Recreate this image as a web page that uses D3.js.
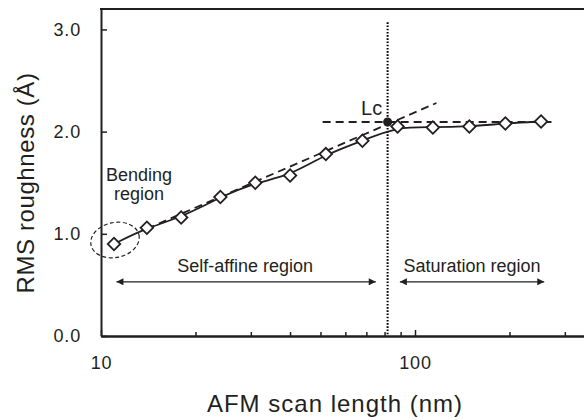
<!DOCTYPE html>
<html>
<head>
<meta charset="utf-8">
<script src="https://cdn.jsdelivr.net/npm/d3@7"></script>
<style>
  body { margin: 0; background: #fff; }
  text { font-family: "Liberation Sans", Arial, sans-serif; fill: #231f20; }
</style>
</head>
<body>
<div id="chart"></div>
<script>
// ---------------- data
const scanLength = [11, 14, 18, 24, 31, 40, 52, 68, 88, 114, 149, 194, 252]
const rmsRough   = [0.90, 1.06, 1.16, 1.36, 1.50, 1.57, 1.78, 1.91, 2.05, 2.04, 2.05, 2.08, 2.10]

const lcPoint = { x: 81.8, y: 2.094 }
// power-law fit (dashed) and saturation level (dashed)
const slopeLine = [{ x: 14, y: 1.05 }, { x: 117, y: 2.28 }]
const satLine   = [{ x: 50.8, y: 2.094 }, { x: 272, y: 2.094 }]

const yTicks = [0, 1, 2, 3]
const xMajor = [10, 100]
const xMinor = [20, 30, 40, 50, 60, 70, 80, 90, 200, 300, 400]

const regions = [
  { label: "Self-affine region", from: 11.2, to: 75, y: 0.53 },
  { label: "Saturation region", from: 89.5, to: 258, y: 0.53 }
]

const dataset = scanLength.map((d, i) => ({ x: d, y: rmsRough[i] }))

// ---------------- dimensions
let dimensions = {
  width: 584,
  height: 420,
  left: 101,
  top: 9,
  bottom: 336
}

const svg = d3.select("#chart")
  .append("svg")
  .attr("width", dimensions.width)
  .attr("height", dimensions.height)

const defs = svg.append("defs")
defs.append("marker")
  .attr("id", "arrow")
  .attr("viewBox", "0 0 10 10")
  .attr("refX", 10).attr("refY", 5)
  .attr("markerWidth", 9).attr("markerHeight", 7)
  .attr("markerUnits", "userSpaceOnUse")
  .attr("orient", "auto-start-reverse")
  .append("path")
  .attr("d", "M0,0L10,5L0,10Z")
  .attr("fill", "#231f20")

// ---------------- scales (one decade = 314px)
const xScale = d3.scaleLog()
  .domain([10, 1000])
  .range([dimensions.left, dimensions.left + 628])

const yScale = d3.scaleLinear()
  .domain([0, 3.2])
  .range([dimensions.bottom, dimensions.top])

const xAccessor = d => xScale(d.x)
const yAccessor = d => yScale(d.y)

// ---------------- axes
const xMinorAxis = d3.axisBottom(xScale)
  .tickValues(xMinor)
  .tickSizeInner(-4)
  .tickSizeOuter(0)
  .tickFormat("")

const xMajorAxis = d3.axisBottom(xScale)
  .tickValues(xMajor)
  .tickSizeInner(-6)
  .tickSizeOuter(0)
  .tickPadding(20)
  .tickFormat(d3.format("d"))

const yAxis = d3.axisLeft(yScale)
  .tickValues(yTicks)
  .tickSizeInner(-6)
  .tickSizeOuter(0)
  .tickPadding(20)
  .tickFormat(d3.format(".1f"))

svg.append("g")
  .attr("transform", `translate(0,${dimensions.bottom})`)
  .call(xMinorAxis)
svg.append("g")
  .attr("transform", `translate(0,${dimensions.bottom})`)
  .call(xMajorAxis)
svg.append("g")
  .attr("transform", `translate(${dimensions.left},0)`)
  .call(yAxis)

svg.selectAll(".domain").attr("stroke", "#231f20").attr("stroke-width", 2)
svg.selectAll(".tick line").attr("stroke", "#231f20").attr("stroke-width", 1.5)
svg.selectAll(".tick text")
  .style("font-size", "18px")
  .style("letter-spacing", "0.8px")
  .style("fill", "#231f20")

// top frame line
svg.append("line")
  .attr("x1", dimensions.left - 1).attr("x2", dimensions.width)
  .attr("y1", dimensions.top).attr("y2", dimensions.top)
  .attr("stroke", "#231f20").attr("stroke-width", 2)

// axis titles
svg.append("text")
  .attr("x", 335).attr("y", 412)
  .attr("text-anchor", "middle")
  .style("font-size", "24px")
  .style("letter-spacing", "1px")
  .text("AFM scan length (nm)")

svg.append("text")
  .attr("transform", "translate(34,183) rotate(-90)")
  .attr("text-anchor", "middle")
  .style("font-size", "24px")
  .style("letter-spacing", "0.6px")
  .text("RMS roughness (Å)")

// ---------------- guide lines
svg.append("line")
  .attr("x1", xScale(lcPoint.x)).attr("x2", xScale(lcPoint.x))
  .attr("y1", yScale(3.07)).attr("y2", yScale(0))
  .attr("stroke", "#000").attr("stroke-width", 2)
  .style("stroke-dasharray", "1.6,1.6")

const straight = d3.line().x(xAccessor).y(yAccessor)

svg.append("path")
  .attr("d", straight(slopeLine))
  .attr("fill", "none").attr("stroke", "#231f20").attr("stroke-width", 1.8)
  .style("stroke-dasharray", "8,5")

svg.append("path")
  .attr("d", straight(satLine))
  .attr("fill", "none").attr("stroke", "#231f20").attr("stroke-width", 1.8)
  .style("stroke-dasharray", "8,5")

// ---------------- fit curve + points
const lineGenerator = d3.line()
  .x(xAccessor)
  .y(yAccessor)
  .curve(d3.curveBasis)

svg.append("path")
  .attr("d", lineGenerator(dataset))
  .attr("fill", "none")
  .attr("stroke", "#231f20")
  .attr("stroke-width", 1.8)

svg.append("circle")
  .attr("cx", xScale(lcPoint.x)).attr("cy", yScale(lcPoint.y))
  .attr("r", 4.5).attr("fill", "#231f20")

const diamond = d3.symbol().type(d3.symbolSquare).size(78)

svg.selectAll(".pt")
  .data(dataset)
  .join("path")
  .attr("class", "pt")
  .attr("d", diamond)
  .attr("transform", d => `translate(${xAccessor(d)},${yAccessor(d)}) rotate(45)`)
  .attr("fill", "#fff")
  .attr("stroke", "#231f20")
  .attr("stroke-width", 1.8)

// ---------------- annotations
svg.append("text")
  .attr("x", xScale(lcPoint.x) - 16).attr("y", yScale(lcPoint.y) - 7)
  .attr("text-anchor", "middle")
  .style("font-size", "20px")
  .text("Lc")

// bending region ellipse round the first point
const first = dataset[0]
svg.append("ellipse")
  .attr("transform", `translate(${xAccessor(first) + 1},${yAccessor(first) - 4}) rotate(-12)`)
  .attr("rx", 24.5).attr("ry", 17.5)
  .attr("fill", "none").attr("stroke", "#231f20").attr("stroke-width", 1.2)
  .style("stroke-dasharray", "4,2.5")

const bend = svg.append("text")
  .attr("text-anchor", "middle")
  .style("font-size", "18px")
bend.append("tspan").attr("x", 139).attr("y", 181).text("Bending")
bend.append("tspan").attr("x", 139).attr("y", 200).text("region")

regions.forEach(r => {
  svg.append("line")
    .attr("x1", xScale(r.from)).attr("x2", xScale(r.to))
    .attr("y1", yScale(r.y)).attr("y2", yScale(r.y))
    .attr("stroke", "#231f20").attr("stroke-width", 1.2)
    .attr("marker-start", "url(#arrow)")
    .attr("marker-end", "url(#arrow)")
  svg.append("text")
    .attr("x", (xScale(r.from) + xScale(r.to)) / 2 + (r.from < 20 ? -1 : 0))
    .attr("y", yScale(r.y) - 10)
    .attr("text-anchor", "middle")
    .style("font-size", "18px")
    .text(r.label)
})
</script>
</body>
</html>
